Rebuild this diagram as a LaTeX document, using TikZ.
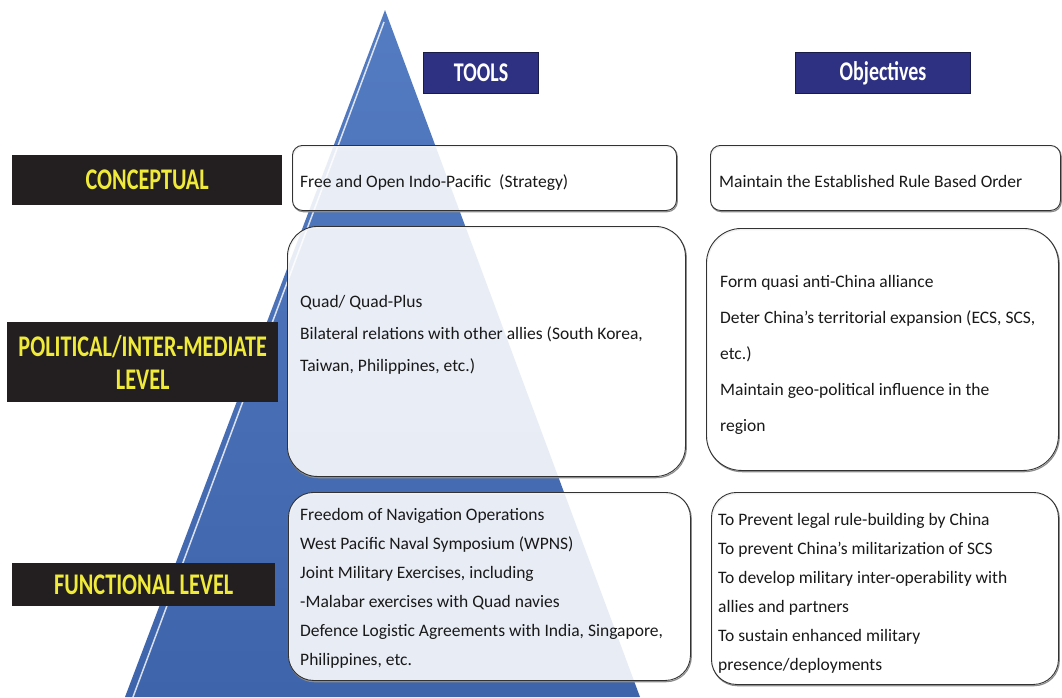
\documentclass[tikz,border=0pt]{standalone}
\usepackage{fontspec}
\setmainfont{Carlito}
\newfontfamily\headfont[FakeStretch=0.74]{Carlito}
\definecolor{pyrtop}{RGB}{84,124,194}
\definecolor{pyrbot}{RGB}{62,100,172}
\definecolor{lvlblack}{RGB}{35,31,32}
\definecolor{lvlyellow}{RGB}{240,234,58}
\definecolor{navy}{RGB}{46,49,130}
\definecolor{boxgray}{RGB}{50,50,50}

\begin{document}
\begin{tikzpicture}[
		x=1pt, y=-1pt,
		every node/.style={
				font=\fontsize{17.5}{29}\selectfont,
			},
		levelbox/.style={fill=lvlblack, text=lvlyellow, align=center, inner sep=0pt,
				anchor=north west, font=\headfont\bfseries\fontsize{30}{33}\selectfont},
		headbox/.style={fill=navy, draw=navy!55!black, line width=1.2pt, text=white, inner sep=0pt,
				anchor=north west, font=\headfont\bfseries\fontsize{27}{30}\selectfont},
		infobox/.style={draw=boxgray, line width=0.9pt, fill=white, fill opacity=0.88, draw opacity=1,
				rounded corners=#1, anchor=north west, inner sep=0pt,
				preaction={draw=black!45, line width=1.2pt, transform canvas={shift={(0.8pt,-1.2pt)}}}},
		infobox/.default=10pt,
		boxtext/.style={anchor=west, align=left, inner sep=0pt, text=black!90},
	]
	\useasboundingbox (0,0) rectangle (1062,697);
	\fill[white] (0,0) rectangle (1062,697);

	% pyramid
	\shade[top color=pyrtop, bottom color=pyrbot] (385,10) -- (640,697) -- (125,697) -- cycle;
	\draw[white, opacity=0.8, line width=1.5pt] (384,22) -- (133,697);

	% tools column
	\node[infobox, minimum width=384, minimum height=65] (tool1) at (292,145) {};
	\node[infobox=30pt, minimum width=398, minimum height=250] (tool2) at (287,226) {};
	\node[infobox=25pt, minimum width=402, minimum height=188] (tool3) at (288,492) {};

	% objectives column
	\node[infobox, minimum width=350, minimum height=65] (obj1) at (710,145) {};
	\node[infobox=35pt, minimum width=352, minimum height=242] (obj2) at (706,228) {};
	\node[infobox=25pt, minimum width=347, minimum height=192] (obj3) at (711,492) {};

	% levels
	\node[levelbox, minimum width=270, minimum height=50] (conceptual) at (12,155) {CONCEPTUAL};
	\node[levelbox, minimum width=271, minimum height=80] (political) at (7,322) {POLITICAL/INTER-MEDIATE\\LEVEL};
	\node[levelbox, minimum width=263, minimum height=43] (functional) at (12,563) {FUNCTIONAL LEVEL};

	\node[headbox, minimum width=115, minimum height=41] (tools) at (423,52) {TOOLS};
	\node[headbox, minimum width=175, minimum height=41] (objectives) at (795,52) {Objectives};

	% texts
	\node[boxtext] (tool1txt) at (300,183) {Free and Open Indo-Pacific\ \ (Strategy)};
	\node[boxtext, font=\fontsize{17.5}{32}\selectfont] (tool2txt) at (300,335)
	{Quad/ Quad-Plus\\Bilateral relations with other allies (South Korea,\\Taiwan, Philippines, etc.)};
	\node[boxtext] (tool3txt) at (300,588)
	{Freedom of Navigation Operations\\West Pacific Naval Symposium (WPNS)\\Joint Military Exercises, including\\-Malabar exercises with Quad navies\\Defence Logistic Agreements with India, Singapore,\\Philippines, etc.};

	\node[boxtext] (obj1txt) at (719,181) {Maintain the Established Rule Based Order};
	\node[boxtext, font=\fontsize{17.5}{36}\selectfont] (obj2txt) at (720,355)
	{Form quasi anti-China alliance\\Deter China’s territorial expansion (ECS, SCS,\\etc.)\\Maintain geo-political influence in the\\region};
	\node[boxtext] (obj3txt) at (718,593)
	{To Prevent legal rule-building by China\\To prevent China’s militarization of SCS\\To develop military inter-operability with\\allies and partners\\To sustain enhanced military\\presence/deployments};
\end{tikzpicture}
\end{document}
